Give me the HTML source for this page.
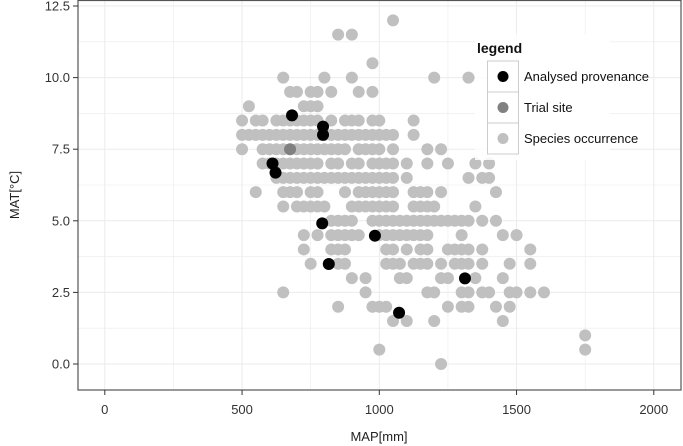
<!DOCTYPE html>
<html><head><meta charset="utf-8">
<style>
body{margin:0;background:#fff;}
svg{display:block;font-family:"Liberation Sans",Arial,sans-serif;}
</style></head>
<body>
<svg id="chart" width="683" height="446" viewBox="0 0 683 446">
<g id="grid"></g>
<g id="points"></g>
<rect x="78" y="0.5" width="603" height="389.5" fill="none" stroke="#555" stroke-width="1.2"/>
<g id="axes"></g>
<text x="379" y="441" font-size="13" text-anchor="middle" fill="#222">MAP[mm]</text>
<text x="19" y="195" font-size="13" text-anchor="middle" fill="#222" transform="rotate(-90 19 195)">MAT[°C]</text>
<g id="legend">
<rect x="475" y="34" width="135" height="126" fill="#fff" fill-opacity="0.85"/>
<text x="477" y="53" font-size="14" font-weight="bold" fill="#111">legend</text>
<g>
<rect x="487.5" y="61" width="31" height="31" fill="#fff" stroke="#ccc" stroke-width="1"/>
<circle cx="503" cy="76.5" r="5.5" fill="#000"/>
<text x="524" y="81" font-size="13" fill="#111">Analysed provenance</text></g>
<g>
<rect x="487.5" y="92" width="31" height="31" fill="#fff" stroke="#ccc" stroke-width="1"/>
<circle cx="503" cy="107.5" r="5.5" fill="#808080"/>
<text x="524" y="112" font-size="13" fill="#111">Trial site</text></g>
<g>
<rect x="487.5" y="123" width="31" height="31" fill="#fff" stroke="#ccc" stroke-width="1"/>
<circle cx="503" cy="138.5" r="5.5" fill="#c0c0c0"/>
<text x="524" y="143" font-size="13" fill="#111">Species occurrence</text></g>
</g>
</svg>
<script>
const xTicks = [0, 500, 1000, 1500, 2000];
const yTicks = [0, 2.5, 5, 7.5, 10, 12.5];
const yTickLabels = ["0.0", "2.5", "5.0", "7.5", "10.0", "12.5"];
const speciesMAT = [12.0, 11.5, 10.5, 10.0, 9.5, 9.0, 8.5, 8.0, 7.5, 7.0, 6.5, 6.0, 5.5, 5.0, 4.5, 4.0, 3.5, 3.0, 2.5, 2.0, 1.5, 1.0, 0.5, 0.0];
const speciesMAP = [
 [1050],
 [850, 900],
 [975],
 [650, 800, 900, 1200, 1325],
 [675, 700, 750, 775, 825, 925, 975],
 [525, 725, 750, 775],
 [500, 550, 575, 625, 650, 675, 700, 725, 750, 775, 825, 875, 900, 925, 975, 1000, 1125],
 [500, 525, 550, 575, 600, 625, 650, 675, 700, 725, 750, 775, 800, 825, 850, 875, 900, 925, 950, 975, 1000, 1025, 1050, 1125],
 [500, 575, 600, 625, 650, 700, 725, 750, 775, 800, 825, 850, 875, 925, 950, 975, 1000, 1050, 1175, 1225],
 [575, 600, 625, 650, 675, 700, 725, 750, 775, 825, 850, 900, 925, 975, 1000, 1025, 1050, 1100, 1175, 1250, 1350, 1400],
 [625, 650, 675, 700, 725, 750, 775, 800, 825, 850, 875, 900, 925, 950, 975, 1000, 1025, 1050, 1100, 1325, 1375, 1400],
 [550, 650, 675, 700, 750, 775, 875, 925, 950, 975, 1000, 1025, 1050, 1125, 1150, 1175, 1225, 1425],
 [650, 700, 725, 750, 775, 800, 900, 925, 950, 975, 1000, 1025, 1050, 1125, 1150, 1175, 1200, 1350],
 [825, 850, 875, 900, 975, 1000, 1025, 1050, 1075, 1100, 1125, 1150, 1175, 1200, 1225, 1250, 1275, 1300, 1325, 1375, 1425],
 [725, 775, 825, 850, 875, 900, 925, 1000, 1025, 1050, 1075, 1100, 1125, 1150, 1175, 1300, 1450, 1500],
 [725, 825, 850, 875, 1025, 1050, 1100, 1150, 1175, 1250, 1275, 1300, 1325, 1375, 1550],
 [750, 850, 875, 1025, 1050, 1075, 1125, 1150, 1175, 1225, 1275, 1300, 1325, 1375, 1475, 1550],
 [900, 950, 1075, 1100, 1225, 1250, 1350, 1450],
 [650, 950, 1175, 1200, 1300, 1325, 1375, 1400, 1475, 1500, 1550, 1600],
 [850, 975, 1000, 1025, 1250, 1300, 1325, 1425, 1475],
 [1050, 1100, 1200, 1450],
 [1750],
 [1000, 1750],
 [1225]
];
const trialMAP = [675];
const trialMAT = [7.5];
const analysedMAP = [682, 795, 795, 611, 622, 792, 984, 816, 1312, 1072];
const analysedMAT = [8.68, 8.29, 8.0, 7.0, 6.68, 4.91, 4.48, 3.49, 2.99, 1.79];

const NS = "http://www.w3.org/2000/svg";
function xs(v){ return 104.8 + v * 0.2745; }
function ys(v){ return 364 - v * 28.64; }
function mk(tag, attrs, parent){
  const e = document.createElementNS(NS, tag);
  for (const k in attrs) e.setAttribute(k, attrs[k]);
  parent.appendChild(e);
  return e;
}
const grid = document.getElementById('grid');
const pts = document.getElementById('points');
const axes = document.getElementById('axes');

for (let i = 0; i < xTicks.length; i++) {
  const vals = [xTicks[i], xTicks[i] + 250];
  vals.forEach(v => {
    const X = xs(v);
    if (X > 78 && X < 681) {
      const l = mk('line', {x1:X, x2:X, y1:0, y2:390, stroke:'#ebebeb', 'stroke-width': v === xTicks[i] ? 1 : 0.6}, grid);
      
      
    }
  });
}
for (let i = 0; i < yTicks.length; i++) {
  const vals = [yTicks[i], yTicks[i] - 1.25];
  vals.forEach(v => {
    const Y = ys(v);
    if (Y > 0 && Y < 390) {
      const l = mk('line', {x1:78, x2:681, y1:Y, y2:Y, stroke:'#ebebeb', 'stroke-width': v === yTicks[i] ? 1 : 0.6}, grid);
      
      
    }
  });
}

for (let r = 0; r < speciesMAT.length; r++) {
  for (let j = 0; j < speciesMAP[r].length; j++) {
    const c = mk('circle', {cx: xs(speciesMAP[r][j]), cy: ys(speciesMAT[r]), r: 6, fill: '#c0c0c0'}, pts);
    
    
  }
}
for (let i = 0; i < trialMAP.length; i++) {
  const c = mk('circle', {cx: xs(trialMAP[i]), cy: ys(trialMAT[i]), r: 6, fill: '#808080'}, pts);
  
  
}
for (let i = 0; i < analysedMAP.length; i++) {
  const c = mk('circle', {cx: xs(analysedMAP[i]), cy: ys(analysedMAT[i]), r: 6, fill: '#000'}, pts);
  
  
}

for (let i = 0; i < xTicks.length; i++) {
  const X = xs(xTicks[i]);
  const t = mk('line', {x1:X, x2:X, y1:390, y2:395, stroke:'#333', 'stroke-width':1}, axes);
  
  
  const tx = mk('text', {x:X, y:414, 'font-size':13, 'text-anchor':'middle', fill:'#333'}, axes);
  tx.textContent = String(xTicks[i]);
  
  
}
for (let i = 0; i < yTicks.length; i++) {
  const Y = ys(yTicks[i]);
  const t = mk('line', {x1:73, x2:78, y1:Y, y2:Y, stroke:'#333', 'stroke-width':1}, axes);
  
  
  const tx = mk('text', {x:70, y:Y + 4.5, 'font-size':13, 'text-anchor':'end', fill:'#333'}, axes);
  tx.textContent = yTickLabels[i];
  
  
}
</script>
</body></html>
